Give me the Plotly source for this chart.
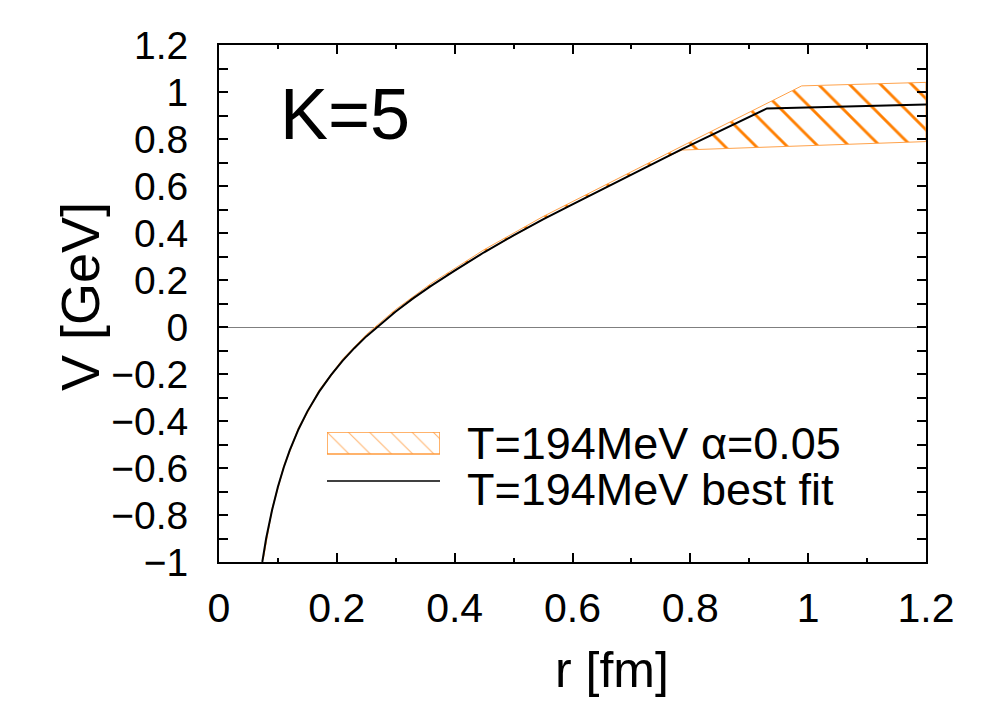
import plotly.graph_objects as go

# ---- data ----
r_fit = [0.0735, 0.08, 0.09, 0.10, 0.11, 0.12, 0.135, 0.15, 0.17, 0.19, 0.21, 0.23,
         0.25, 0.27, 0.30, 0.33, 0.36, 0.40, 0.45, 0.50, 0.55, 0.60, 0.65, 0.70,
         0.75, 0.786, 0.93, 1.20]
V_fit = [-1.00, -0.90, -0.78, -0.68, -0.597, -0.525, -0.435, -0.359, -0.275, -0.205,
         -0.143, -0.089, -0.040, 0.004, 0.066, 0.123, 0.175, 0.240, 0.318, 0.390,
         0.458, 0.522, 0.586, 0.648, 0.712, 0.757, 0.930, 0.947]

r_band_upper = [0.075, 0.09, 0.11, 0.135, 0.17, 0.21, 0.25, 0.30, 0.36, 0.45, 0.55,
                0.65, 0.75, 0.786, 0.989, 1.20]
V_band_upper = [-0.985, -0.772, -0.590, -0.428, -0.268, -0.136, -0.032, 0.075, 0.185,
                0.329, 0.470, 0.598, 0.724, 0.770, 1.026, 1.041]
r_band_lower = [0.075, 0.09, 0.11, 0.135, 0.17, 0.21, 0.25, 0.30, 0.36, 0.45, 0.55,
                0.65, 0.75, 0.786, 1.20]
V_band_lower = [-0.99, -0.78, -0.597, -0.435, -0.275, -0.143, -0.040, 0.066, 0.175,
                0.318, 0.458, 0.586, 0.712, 0.753, 0.789]

x_ticks = [0, 0.2, 0.4, 0.6, 0.8, 1, 1.2]
y_ticks = [-1, -0.8, -0.6, -0.4, -0.2, 0, 0.2, 0.4, 0.6, 0.8, 1, 1.2]

label_band = "T=194MeV α=0.05"
label_fit = "T=194MeV best fit"
panel_label = "K=5"

ORANGE = "#ff7f00"
EDGE = "#ffa24a"
FONT = "Liberation Sans, Arial, sans-serif"

OFF = 8  # default page margin of the html body
W, H = 1000, 698
L, R, T, B = 219 - OFF, 82, 45 - OFF, 144
pw, ph = W - L - R, H - T - B


def px_x(px):
    return (px - OFF - L) / pw


def px_y(py):
    return (H - B - (py - OFF)) / ph


fig = go.Figure()

# band (hatched)
band_x = r_band_upper + r_band_lower[::-1]
band_y = V_band_upper + V_band_lower[::-1]
fig.add_trace(go.Scatter(
    x=band_x, y=band_y, mode="lines", fill="toself",
    fillcolor="rgba(0,0,0,0)",
    fillpattern=dict(shape="\\", fgcolor=ORANGE, bgcolor="rgba(0,0,0,0)",
                     size=22, solidity=0.13, fillmode="replace"),
    line=dict(color=EDGE, width=1), showlegend=False, hoverinfo="skip"))

# best fit line
fig.add_trace(go.Scatter(x=r_fit, y=V_fit, mode="lines",
                         line=dict(color="black", width=2), showlegend=False))

# ---- custom legend on a hidden inset axis ----
fig.add_trace(go.Scatter(
    x=[0, 1, 1, 0, 0], y=[0.62, 0.62, 1, 1, 0.62], mode="lines", fill="toself",
    fillcolor="rgba(0,0,0,0)",
    fillpattern=dict(shape="\\", fgcolor="#ffb26b", bgcolor="rgba(0,0,0,0)",
                     size=15, solidity=0.07, fillmode="replace"),
    line=dict(color="#ff9a3c", width=1.5), xaxis="x2", yaxis="y2",
    showlegend=False, hoverinfo="skip"))
fig.add_trace(go.Scatter(x=[0, 1], y=[0.155, 0.155], mode="lines",
                         line=dict(color="black", width=1.5),
                         xaxis="x2", yaxis="y2", showlegend=False, hoverinfo="skip"))

axis_common = dict(showgrid=False, showline=True, linecolor="black", linewidth=2,
                   mirror="allticks", ticks="inside", tickcolor="black",
                   tickwidth=1.5, ticklen=9)

fig.update_layout(
    width=W, height=H,
    margin=dict(l=L, r=R, t=T, b=B, autoexpand=False),
    paper_bgcolor="white", plot_bgcolor="white",
    font=dict(family=FONT, color="black"),
    showlegend=False,
    xaxis=dict(range=[0, 1.2], tickvals=x_ticks,
               ticktext=[f"{v:g}" for v in x_ticks],
               tickfont=dict(size=41), ticklabelstandoff=9, zeroline=False,
               minor=dict(dtick=0.1, tick0=0, ticks="inside", ticklen=4,
                          tickcolor="black", tickwidth=1.5),
               **axis_common),
    yaxis=dict(range=[-1, 1.2], tickvals=y_ticks,
               ticktext=[f"{v:g}".replace("-", "−") for v in y_ticks],
               tickfont=dict(size=39), ticklabelstandoff=21,
               zeroline=True, zerolinecolor="#7f7f7f", zerolinewidth=1,
               minor=dict(dtick=0.1, tick0=0, ticks="inside", ticklen=9,
                          tickcolor="black", tickwidth=1.5),
               **axis_common),
    xaxis2=dict(domain=[px_x(327), px_x(440)], range=[0, 1], visible=False,
                anchor="y2", fixedrange=True),
    yaxis2=dict(domain=[px_y(490), px_y(432)], range=[0, 1], visible=False,
                anchor="x2", fixedrange=True),
    annotations=[
        dict(text=panel_label, x=px_x(278), y=px_y(114), xref="paper", yref="paper",
             xanchor="left", yanchor="middle", showarrow=False,
             font=dict(size=72, family=FONT)),
        dict(text=label_band, x=px_x(465), y=px_y(443), xref="paper", yref="paper",
             xanchor="left", yanchor="middle", showarrow=False,
             font=dict(size=45, family=FONT)),
        dict(text=label_fit, x=px_x(465), y=px_y(489), xref="paper", yref="paper",
             xanchor="left", yanchor="middle", showarrow=False,
             font=dict(size=45, family=FONT)),
        dict(text="r [fm]", x=px_x(612), y=px_y(670), xref="paper", yref="paper",
             xanchor="center", yanchor="middle", showarrow=False,
             font=dict(size=50, family=FONT)),
        dict(text="V [GeV]", x=px_x(80), y=px_y(297), xref="paper", yref="paper",
             xanchor="center", yanchor="middle", showarrow=False, textangle=-90,
             font=dict(size=54, family=FONT)),
    ],
)

fig.write_html("out.html")
